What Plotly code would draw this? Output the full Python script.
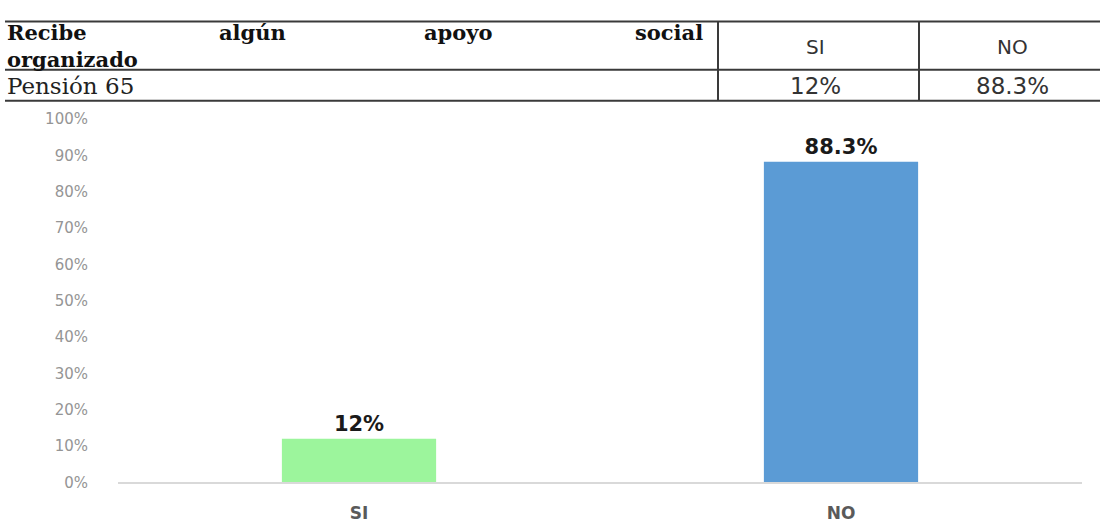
import plotly.graph_objects as go

W, H = 1101, 531

categories = ["SI", "NO"]
values = [0.12, 0.883]
value_labels = ["12%", "88.3%"]
bar_colors = ["#9cf59c", "#5b9bd5"]

table_header_words = ["Recibe", "algún", "apoyo", "social"]
table_header_line2 = "organizado"
table_row_label = "Pensión 65"
table_cols = ["SI", "NO"]
table_vals = ["12%", "88.3%"]

y_ticks = [i / 10 for i in range(11)]
y_ticktext = [f"{i * 10}%" for i in range(11)]


def px(x):
    return x / W


def py(y):
    return 1 - y / H


fig = go.Figure()
fig.add_trace(go.Bar(
    x=categories, y=values, marker_color=bar_colors, marker_line_width=0,
    text=value_labels, textposition="outside", cliponaxis=False,
    textfont=dict(family="DejaVu Sans", size=21, color="#1a1a1a", weight="bold"),
    width=0.32,
))

fig.update_layout(
    width=W, height=H, margin=dict(l=0, r=0, t=0, b=0),
    paper_bgcolor="white", plot_bgcolor="white", showlegend=False,
    xaxis=dict(domain=[px(118), px(1082)], showgrid=False, showline=True,
               linecolor="#d9d9d9", linewidth=1.5, ticks="outside", ticklen=14,
               tickcolor="rgba(0,0,0,0)",
               tickfont=dict(family="DejaVu Sans", size=17, color="#5a5a5a", weight="bold")),
    yaxis=dict(domain=[py(490), py(114)], range=[0, 1], tickvals=y_ticks,
               ticktext=y_ticktext, showgrid=False, zeroline=False,
               ticks="outside", ticklen=26, tickcolor="rgba(0,0,0,0)",
               tickfont=dict(family="DejaVu Sans", size=15, color="#959595")),
)

line_col = "#3a3a3a"
shapes = []
for y in [13, 63, 95]:
    shapes.append(dict(type="line", xref="paper", yref="paper",
                       x0=px(5), x1=px(1100), y0=py(y), y1=py(y),
                       line=dict(color=line_col, width=2)))
for x in [718, 919]:
    shapes.append(dict(type="line", xref="paper", yref="paper",
                       x0=px(x), x1=px(x), y0=py(13), y1=py(95),
                       line=dict(color=line_col, width=2)))
fig.update_layout(shapes=shapes)

serif_b = dict(family="DejaVu Serif", size=21, color="#111111", weight="bold")
serif = dict(family="DejaVu Serif", size=23, color="#222222")
sans = dict(family="DejaVu Sans", size=20, color="#333333")

anns = []
word_x = [5, 252, 458, 705]
anchors = ["left", "center", "center", "right"]
for w, x, a in zip(table_header_words, word_x, anchors):
    anns.append(dict(text=w, x=px(x), y=py(24), xref="paper", yref="paper",
                     xanchor=a, yanchor="middle", showarrow=False, font=serif_b))
anns.append(dict(text=table_header_line2, x=px(5), y=py(52), xref="paper", yref="paper",
                 xanchor="left", yanchor="middle", showarrow=False, font=serif_b))
anns.append(dict(text=table_row_label, x=px(5), y=py(80), xref="paper", yref="paper",
                 xanchor="left", yanchor="middle", showarrow=False, font=serif))
col_centers = [815, 1012]
for c, v, x in zip(table_cols, table_vals, col_centers):
    anns.append(dict(text=c, x=px(x), y=py(39), xref="paper", yref="paper",
                     xanchor="center", yanchor="middle", showarrow=False, font=sans))
    anns.append(dict(text=v, x=px(x), y=py(80), xref="paper", yref="paper",
                     xanchor="center", yanchor="middle", showarrow=False,
                     font=dict(family="DejaVu Sans", size=23, color="#333333")))
fig.update_layout(annotations=anns)

fig.write_html("out.html")
